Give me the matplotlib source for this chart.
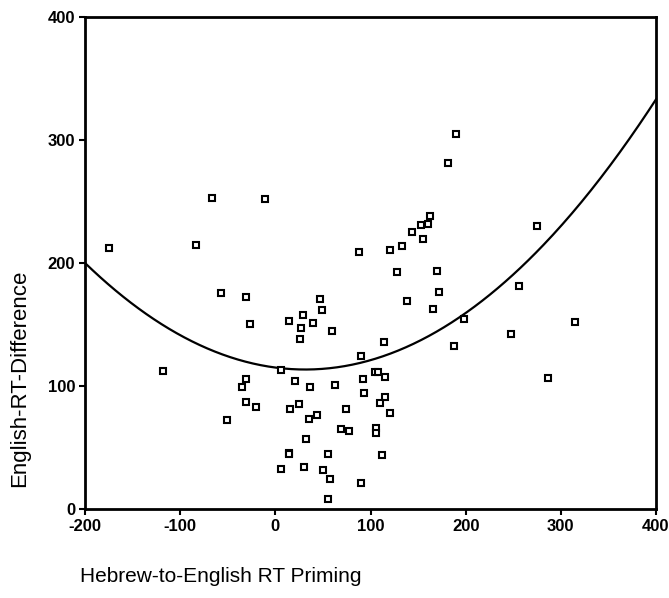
#imports
import numpy as np
import matplotlib.pyplot as plt

plt.rcParams['font.family'] = ['Liberation Sans', 'DejaVu Sans']
plt.rcParams['axes.unicode_minus'] = False

# valores
priming = [-174.5, -66.3, -10.5, -83.7, -57.5, -31.2, -26.7, -117.8, -31.2, -35.4,
           -31.2, -20.4, -51.2, 189.4, 181.6, 162.4, 152.9, 160.6, 143.1, 154.7,
           132.6, 120.0, 88.1, 127.7, 170.4, 171.8, 47.2, 138.6, 48.6, 165.2,
           14.3, 29.3, 39.2, 27.2, 26.2, 59.1, 113.8, 187.6, 89.6, 5.9,
           20.3, 36.3, 62.6, 105.0, 108.0, 115.1, 91.7, 93.1, 15.3, 24.4,
           115.1, 109.9, 120.0, 73.8, 35.3, 43.4, 68.9, 77.3, 106.0, 106.0,
           31.8, 14.0, 14.5, 54.9, 112.3, 5.6, 30.4, 49.7, 57.7, 89.9,
           55.3, 274.5, 255.9, 198.1, 247.5, 314.7, 286.0]
rt_diff = [212.4, 253.0, 252.0, 214.6, 175.6, 172.0, 150.2, 112.2, 105.7, 98.9,
           86.7, 82.9, 72.4, 305.0, 281.0, 238.2, 230.6, 231.4, 225.0, 219.8,
           213.8, 210.6, 209.2, 192.4, 193.5, 176.4, 170.5, 169.5, 161.8, 162.8,
           152.8, 157.7, 151.5, 147.4, 138.2, 144.7, 135.5, 132.8, 124.4, 113.0,
           104.0, 99.5, 100.8, 111.6, 111.0, 107.6, 105.4, 94.6, 81.5, 85.4,
           91.3, 86.4, 78.3, 81.3, 73.2, 76.2, 65.3, 63.7, 65.6, 61.5,
           56.9, 45.8, 44.6, 45.0, 43.9, 32.8, 34.4, 31.7, 24.1, 21.4,
           7.9, 230.3, 181.5, 154.2, 142.0, 152.3, 106.3]

# coeficientes da curva quadrática
coef_curva = [0.001617, -0.1017, 115.0]

xticks = [-200, -100, 0, 100, 200, 300, 400]
yticks = [0, 100, 200, 300, 400]

fig = plt.figure(figsize=(6.69, 5.98), dpi=100)
ax = fig.add_axes([85/669, 1 - 509/598, (656-85)/669, (509-17)/598])

xs = np.linspace(-200, 400, 300)
ax.plot(xs, np.polyval(coef_curva, xs), color='black', lw=1.6)

ax.plot(priming, rt_diff, 's', markersize=4.8, markerfacecolor='white',
        markeredgecolor='black', markeredgewidth=1.5, linestyle='none')

ax.set_xlim(-200, 400)
ax.set_ylim(0, 400)
ax.set_xticks(xticks)
ax.set_yticks(yticks)
for s in ax.spines.values():
    s.set_linewidth(2)
ax.tick_params(direction='out', length=4, width=1.5, labelsize=12, pad=3)
for lab in ax.get_xticklabels() + ax.get_yticklabels():
    lab.set_fontweight('bold')

fig.text(20/669, 1 - 378/598, 'English-RT-Difference', rotation=90,
         ha='center', va='center', fontsize=16)
fig.text(80/669, 1 - 576/598, 'Hebrew-to-English RT Priming',
         ha='left', va='center', fontsize=15)

fig.savefig('out.png', dpi=100)
